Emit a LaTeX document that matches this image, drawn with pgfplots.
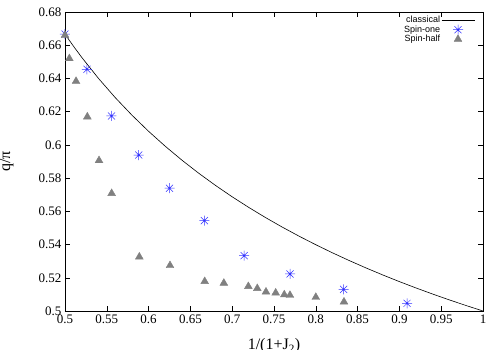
\documentclass[border=0pt]{standalone}
\usepackage{fontspec}
\setmainfont{Liberation Serif}
\newfontfamily\legendfont{Liberation Sans}
\usepackage{pgfplots}
\pgfplotsset{compat=1.18}
\definecolor{starblue}{RGB}{50,50,255}
\definecolor{trigray}{RGB}{128,128,128}
\pgfdeclareplotmark{gstar}{%
  \pgfpathmoveto{\pgfqpoint{-\pgfplotmarksize}{0pt}}\pgfpathlineto{\pgfqpoint{\pgfplotmarksize}{0pt}}%
  \pgfpathmoveto{\pgfqpoint{0pt}{-\pgfplotmarksize}}\pgfpathlineto{\pgfqpoint{0pt}{\pgfplotmarksize}}%
  \pgfpathmoveto{\pgfqpoint{-0.707\pgfplotmarksize}{-0.707\pgfplotmarksize}}\pgfpathlineto{\pgfqpoint{0.707\pgfplotmarksize}{0.707\pgfplotmarksize}}%
  \pgfpathmoveto{\pgfqpoint{-0.707\pgfplotmarksize}{0.707\pgfplotmarksize}}\pgfpathlineto{\pgfqpoint{0.707\pgfplotmarksize}{-0.707\pgfplotmarksize}}%
  \pgfusepathqstroke}
\begin{document}
\begin{tikzpicture}
\useasboundingbox (-65pt,-39pt) rectangle (435pt,311pt);
\begin{axis}[
  at={(0pt,0pt)}, anchor=south west,
  scale only axis,
  width=418pt, height=299pt,
  xmin=0.5, xmax=1, ymin=0.5, ymax=0.68,
  xtick={0.5,0.55,...,1.0},
  ytick={0.5,0.52,...,0.681},
  xticklabels={0.5,0.55,0.6,0.65,0.7,0.75,0.8,0.85,0.9,0.95,1},
  yticklabels={0.5,0.52,0.54,0.56,0.58,0.6,0.62,0.64,0.66,0.68},
  tick align=inside,
  major tick length=5pt,
  every tick/.style={black, line width=0.5pt},
  axis line style={line width=0.8pt},
  tick label style={font=\fontsize{13}{15}\selectfont},
  /pgf/number format/assume math mode=true,
  xlabel={1/(1+J\textsubscript{2})},
  ylabel={q/π},
  xlabel style={font=\fontsize{16}{18}\selectfont, at={(axis description cs:0.5,0)}, anchor=north, yshift=-24pt},
  ylabel style={font=\fontsize{16}{18}\selectfont, at={(axis description cs:0,0.5)}, anchor=south, yshift=48pt, rotate=0},
  legend cell align=right,
  legend plot pos=right,
  legend style={at={(1,1)}, anchor=north east, xshift=-8pt, yshift=-3pt,
    draw=none, fill=none, font=\legendfont\fontsize{9}{10}\selectfont,
    inner sep=0pt, row sep=-0.5pt,
    nodes={inner sep=1pt}},
]
\addplot[black, line width=0.6pt, mark=none,
  legend image code/.code={\draw[black, line width=0.6pt] (0pt,0pt) -- (33pt,0pt);}]
  coordinates {
  (0.5,0.666667) (0.51,0.659506) (0.52,0.652703) (0.54,0.640052) (0.56,0.628514)
  (0.58,0.617930) (0.6,0.608174) (0.62,0.599142) (0.64,0.590750) (0.66,0.582924)
  (0.68,0.575606) (0.7,0.568743) (0.72,0.562291) (0.74,0.556211) (0.76,0.550471)
  (0.78,0.545040) (0.8,0.539893) (0.82,0.535007) (0.84,0.530362) (0.86,0.525938)
  (0.88,0.521720) (0.9,0.517693) (0.92,0.513844) (0.94,0.510161) (0.96,0.506632)
  (0.98,0.503248) (1.0,0.5)
  };
\addlegendentry{classical}
\addplot[only marks, mark=gstar, mark size=5pt, starblue, line width=0.5pt,
  legend image code/.code={\draw[mark repeat=2,mark phase=2] plot coordinates {(0pt,0pt) (16.5pt,0pt) (33pt,0pt)};}]
  coordinates {
  (0.5,0.6667) (0.5263,0.6455) (0.5556,0.6174) (0.5882,0.5939) (0.625,0.5739)
  (0.6667,0.5544) (0.7143,0.5333) (0.7692,0.5223) (0.8333,0.5130) (0.9091,0.5046)
  };
\addlegendentry{Spin-one}
\addplot[only marks, mark=triangle*, mark size=4.5pt, trigray, mark options={fill=trigray, draw=trigray},
  legend image code/.code={\draw[mark repeat=2,mark phase=2] plot coordinates {(0pt,0pt) (16.5pt,0pt) (33pt,0pt)};}]
  coordinates {
  (0.5,0.6660) (0.5052,0.6520) (0.5132,0.6383) (0.5267,0.6169) (0.5407,0.5906)
  (0.5558,0.5708) (0.5889,0.5326) (0.6256,0.5274) (0.6671,0.5178) (0.690,0.5168)
  (0.7193,0.5148) (0.730,0.5136) (0.7404,0.5115) (0.752,0.5109) (0.7623,0.5098)
  (0.7691,0.5095) (0.800,0.5083) (0.8337,0.5055)
  };
\addlegendentry{Spin-half}
\end{axis}
\end{tikzpicture}
\end{document}
